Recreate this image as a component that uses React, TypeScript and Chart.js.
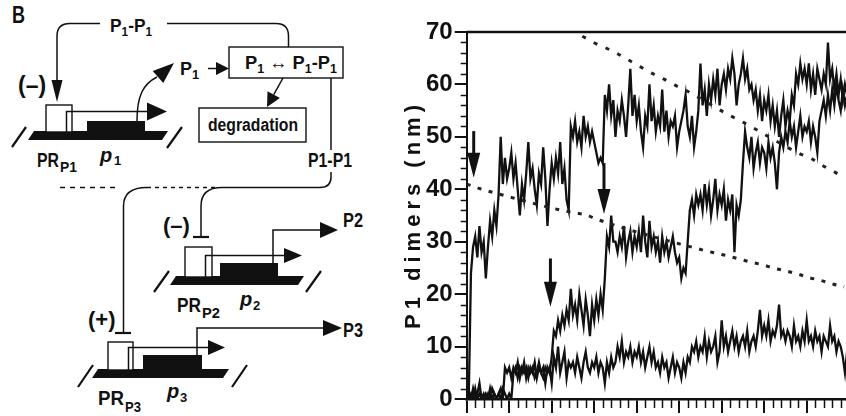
import React, { useEffect, useRef } from 'react';
import { Chart, registerables } from 'chart.js';

Chart.register(...registerables);

// ---------- data ----------
const TIME_STEP = 0.05; // x spacing between samples (axis units, major tick = 1)

const TRACE_A = [
  0, 1, 24, 29, 31, 27, 33, 28, 30, 23,
  29, 34, 31, 36, 33, 39, 50, 41, 46, 42,
  44, 47, 42, 45, 40, 35, 41, 38, 43, 49,
  42, 44, 40, 37, 43, 41, 48, 42, 33, 40,
  45, 42, 46, 43, 49, 41, 44, 38, 36, 52,
  50, 53, 49, 51, 48, 54, 50, 52, 49, 51,
  49, 47, 45, 46, 45, 58, 55, 60, 54, 57,
  50, 55, 53, 57, 54, 50, 56, 63, 54, 58,
  53, 56, 51, 48, 54, 52, 60, 53, 56, 51,
  54, 52, 59, 51, 55, 50, 53, 52, 54, 48,
  51, 53, 55, 58, 52, 50, 54, 48, 51, 55,
  64, 56, 59, 54, 60, 57, 61, 58, 63, 56,
  60, 62, 59, 63, 61, 65, 62, 56, 60, 62,
  65, 61, 63, 59, 60, 57, 59, 55, 58, 53,
  57, 55, 58, 53, 56, 52, 55, 50, 54, 57,
  52, 55, 53, 58, 56, 62, 60, 64, 61, 63,
  60, 64, 59, 62, 58, 63, 61, 59, 62, 60,
  68, 61, 63, 59, 62, 58, 61, 57, 60, 58, 61,
];

const TRACE_B = [
  0, 1, 0, 2, 0, 1, 3, 0, 1, 0,
  1, 0, 2, 1, 0, 1, 2, 0, 6, 5,
  6, 4, 6, 5, 7, 4, 6, 5, 6, 4,
  6, 5, 7, 4, 6, 5, 6, 3, 6, 5,
  8, 13, 12, 15, 13, 16, 14, 17, 15, 21,
  16, 18, 15, 20, 17, 14, 19, 16, 12, 18,
  15, 19, 16, 20, 17, 23, 31, 29, 35, 30,
  30, 28, 31, 29, 33, 27, 30, 32, 28, 31,
  29, 32, 28, 35, 30, 27, 34, 29, 31, 28,
  30, 26, 31, 28, 30, 27, 29, 31, 28, 26,
  27, 23, 25, 24, 30, 36, 38, 35, 39, 37,
  39, 36, 41, 37, 40, 35, 38, 42, 36, 39,
  37, 40, 34, 38, 36, 39, 28, 37, 35, 38,
  45, 51, 48, 46, 50, 44, 47, 49, 45, 48,
  47, 44, 49, 46, 48, 45, 40, 47, 50, 48,
  51, 49, 53, 50, 52, 48, 51, 54, 50, 52,
  51, 53, 49, 52, 50, 47, 53, 55, 57, 54,
  58, 55, 59, 56, 60, 57, 55, 59, 56, 58, 57,
];

const TRACE_C = [
  0, 0, 1, 0, 2, 0, 1, 0, 0, 1,
  0, 2, 0, 1, 0, 1, 0, 2, 1, 0,
  1, 0, 5, 6, 4, 6, 5, 7, 4, 6,
  5, 6, 4, 5, 7, 5, 4, 6, 5, 6,
  3, 8, 6, 10, 5, 7, 9, 4, 7, 6,
  7, 5, 8, 6, 4, 7, 9, 6, 5, 7,
  6, 8, 5, 7, 6, 3, 7, 5, 8, 6,
  7, 10, 8, 11, 7, 9, 8, 10, 7, 9,
  8, 10, 7, 9, 6, 8, 10, 7, 9, 6,
  7, 5, 8, 6, 7, 4, 6, 8, 5, 7,
  6, 4, 7, 5, 8, 7, 10, 9, 11, 8,
  10, 9, 12, 8, 11, 9, 10, 12, 7, 9,
  15, 10, 12, 9, 11, 13, 10, 12, 9, 11,
  12, 10, 13, 9, 11, 12, 10, 13, 17, 12,
  14, 12, 15, 11, 13, 12, 14, 18, 12, 13,
  11, 13, 12, 10, 14, 11, 12, 10, 13, 11,
  15, 11, 12, 10, 13, 11, 12, 9, 12, 11,
  10, 14, 11, 12, 9, 11, 10, 8, 5, 9, 8,
];

const UPPER_DOT_X = [2.72, 3.01, 3.29, 3.56, 3.82, 4.08, 4.34, 4.62, 4.89, 5.15, 6.22, 6.48, 7.83, 8.1, 8.36, 8.61, 8.87];
const UPPER_DOT_Y = [69.2, 67.9, 66.9, 65.8, 64.6, 63.4, 62.2, 61.1, 59.9, 58.9, 53.95, 52.9, 46.8, 45.9, 44.6, 43.5, 42.3];

const LOWER_DOT_X = [0, 0.32, 0.89, 1.44, 2.28, 2.56, 2.81, 3.09, 5.56, 5.87, 6.14, 6.41, 6.69, 6.96, 7.25, 7.53, 7.8, 8.08, 8.34, 8.63, 8.88];
const LOWER_DOT_Y = [41.0, 40.1, 38.8, 37.6, 35.9, 35.5, 35.1, 34.2, 28.4, 27.8, 27.3, 26.7, 26.1, 25.6, 24.9, 24.4, 23.8, 23.1, 22.6, 21.9, 21.4];

// downward arrows (data coordinates)
const ARROW_X = [0.165, 3.23, 1.97];
const ARROW_TOP = [51.1, 45.0, 26.8];
const ARROW_TIP = [42.2, 35.3, 17.6];

const Y_MIN = 0, Y_MAX = 70, Y_STEP = 10, Y_MINOR = 2;
const X_MIN = 0, X_MAX = 10, X_STEP = 1, X_MINOR = 0.2;
const Y_TITLE = 'P1 dimers (nm)';

const FONT = "'Liberation Sans', Arial, Helvetica, sans-serif";
const INK = '#111';

// ---------- plugins ----------
const decorPlugin = {
  id: 'decor',
  afterDatasetsDraw(chart: any) {
    const { ctx, scales } = chart;
    const xs = scales.x, ys = scales.y;
    ctx.save();
    ctx.fillStyle = INK;
    ctx.strokeStyle = INK;
    const HEAD_LEN = 25, HEAD_W = 13;
    for (let i = 0; i < ARROW_X.length; i++) {
      const px = xs.getPixelForValue(ARROW_X[i]);
      const top = ys.getPixelForValue(ARROW_TOP[i]);
      const tip = ys.getPixelForValue(ARROW_TIP[i]);
      ctx.lineWidth = 3;
      ctx.beginPath();
      ctx.moveTo(px, top);
      ctx.lineTo(px, tip - HEAD_LEN + 2);
      ctx.stroke();
      ctx.beginPath();
      ctx.moveTo(px - HEAD_W / 2, tip - HEAD_LEN);
      ctx.lineTo(px + HEAD_W / 2, tip - HEAD_LEN);
      ctx.lineTo(px, tip);
      ctx.closePath();
      ctx.fill();
    }
    ctx.restore();
  },
  afterDraw(chart: any) {
    const { ctx, chartArea, scales } = chart;
    const xs = scales.x, ys = scales.y;
    ctx.save();
    ctx.strokeStyle = INK;
    // top frame line
    ctx.lineWidth = 2.5;
    ctx.beginPath();
    ctx.moveTo(chartArea.left, chartArea.top);
    ctx.lineTo(chartArea.right, chartArea.top);
    ctx.stroke();
    // minor y ticks
    ctx.lineWidth = 1.5;
    ctx.beginPath();
    const ny = Math.round((Y_MAX - Y_MIN) / Y_MINOR);
    for (let k = 0; k <= ny; k++) {
      const v = Y_MIN + k * Y_MINOR;
      if (Math.abs(v / Y_STEP - Math.round(v / Y_STEP)) < 1e-6) continue;
      const py = Math.round(ys.getPixelForValue(v)) + 0.5;
      ctx.moveTo(chartArea.left - 6, py);
      ctx.lineTo(chartArea.left, py);
    }
    // minor x ticks
    const nx = Math.round((X_MAX - X_MIN) / X_MINOR);
    for (let k = 0; k <= nx; k++) {
      const v = X_MIN + k * X_MINOR;
      if (Math.abs(v / X_STEP - Math.round(v / X_STEP)) < 1e-6) continue;
      const px = Math.round(xs.getPixelForValue(v)) + 0.5;
      ctx.moveTo(px, chartArea.bottom);
      ctx.lineTo(px, chartArea.bottom + 9);
    }
    ctx.stroke();
    // y title with wide letter spacing
    ctx.translate(chartArea.left - 53, (chartArea.top + chartArea.bottom) / 2 + 1.5);
    ctx.rotate(-Math.PI / 2);
    ctx.fillStyle = INK;
    ctx.font = `bold 22px ${FONT}`;
    (ctx as any).letterSpacing = '5px';
    ctx.textAlign = 'center';
    ctx.textBaseline = 'middle';
    ctx.fillText(Y_TITLE, 2.5, 0);
    ctx.restore();
  },
};

function traceData(values: number[]) {
  return values.map((y, i) => ({ x: X_MIN + i * TIME_STEP, y }));
}
function pairData(xs: number[], ys: number[]) {
  return xs.map((x, i) => ({ x, y: ys[i] }));
}

const Diagram = () => {
  const line = { stroke: INK, strokeWidth: 1.5, fill: 'none' } as const;
  const thick = { stroke: INK, strokeWidth: 2.2, fill: 'none' } as const;
  const box = { stroke: INK, strokeWidth: 1.4, fill: '#fff' } as const;
  const adj = 'spacingAndGlyphs';
  return (
    <svg width={400} height={416} style={{ position: 'absolute', left: 0, top: 0 }}
      fontFamily={FONT} fontWeight="bold" fill={INK}>
      <text x={12} y={23} fontSize={24} textLength={13} lengthAdjust={adj}>B</text>

      {/* feedback loop P1-P1 */}
      <text x={110} y={31.5} fontSize={19} textLength={42} lengthAdjust={adj}>
        P<tspan fontSize={13} dy={4}>1</tspan><tspan dy={-4}>-P</tspan><tspan fontSize={13} dy={4}>1</tspan>
      </text>
      <path d="M100 23.5 H70 Q57 23.5 57 36 V82" {...line} />
      <polygon points="51.5,80 62.5,80 57,102" />
      <path d="M167 23.5 H276 Q288.5 23.5 288.5 36 V47" {...line} />
      <text x={18} y={93} fontSize={23}>(–)</text>

      {/* gene 1 */}
      <polygon points="34,131 168,131 162,140 28,140" />
      <line x1={12} y1={147} x2={26} y2={127} {...thick} />
      <line x1={167} y1={148} x2={182} y2={127} {...thick} />
      <rect x={46} y={105} width={26} height={27} {...box} />
      <path d="M66.5 132 V111.5 H149" {...line} />
      <polygon points="147,102.5 147,120.5 167,111.5" />
      <rect x={87} y={121} width={58} height={11} />
      <path d="M137 121 C137 96 143 84 157 77" {...line} />
      <polygon points="174,63 163.3,83 152.7,71" />
      <text x={37} y={167} fontSize={20} textLength={22} lengthAdjust={adj}>PR</text>
      <text x={60} y={172} fontSize={15} textLength={17} lengthAdjust={adj}>P1</text>
      <text x={100} y={162} fontSize={20} fontStyle="italic">p</text>
      <text x={114} y={165} fontSize={13}>1</text>

      {/* P1 -> dimerization box */}
      <text x={180} y={75} fontSize={18}>P</text>
      <text x={192} y={79} fontSize={13}>1</text>
      <line x1={208} y1={68.5} x2={218} y2={68.5} {...line} />
      <polygon points="216,62 216,75 229,68.5" />
      <rect x={229} y={47} width={114} height={31} {...box} fill="none" />
      <text x={245} y={68.5} fontSize={19} textLength={92} lengthAdjust={adj}>
        P<tspan fontSize={13} dy={4}>1</tspan><tspan dy={-4}> ↔ P</tspan><tspan fontSize={13} dy={4}>1</tspan><tspan dy={-4}>-P</tspan><tspan fontSize={13} dy={4}>1</tspan>
      </text>
      <line x1={283} y1={78} x2={273.7} y2={94.7} {...line} />
      <polygon points="267,107 279.9,98.1 267.5,91.3" />
      <rect x={199} y={108} width={107} height={34} {...box} fill="none" />
      <text x={208} y={131} fontSize={18} textLength={90} lengthAdjust={adj}>degradation</text>

      {/* P1-P1 regulation of genes 2 and 3 */}
      <line x1={331} y1={78} x2={331} y2={150} {...line} />
      <text x={308} y={167} fontSize={20} textLength={44} lengthAdjust={adj}>P1-P1</text>
      <path d="M331 172 V177 Q331 187.5 320 187.5 H222" {...line} />
      <path d="M222 187.5 Q201 187.5 201 206 V237" {...line} />
      <line x1={193} y1={237} x2={209} y2={237} {...thick} />
      <line x1={215} y1={187.5} x2={147} y2={187.5} {...line} strokeDasharray="4 4" />
      <path d="M147 187.5 Q123.5 187.5 123.5 206 V333" {...line} />
      <line x1={115} y1={333} x2={131} y2={333} {...thick} />
      <line x1={60} y1={187.5} x2={118} y2={187.5} {...line} strokeDasharray="5 5" />

      {/* gene 2 */}
      <text x={163} y={233} fontSize={22}>(–)</text>
      <polygon points="176,276 304,276 298,285 170,285" />
      <line x1={154} y1={292} x2={169} y2={271} {...thick} />
      <line x1={306} y1={292} x2={321} y2={271} {...thick} />
      <rect x={185} y={247} width={27} height={30} {...box} />
      <path d="M205.5 277 V255.5 H286" {...line} />
      <polygon points="284,248 284,263 302,255.5" />
      <rect x={220} y={263} width={58} height={14} />
      <path d="M273 263 V230 H322" {...line} />
      <polygon points="320,222 320,238 338,230" />
      <text x={343} y={227} fontSize={21} textLength={20} lengthAdjust={adj}>P2</text>
      <text x={177} y={312} fontSize={20} textLength={24} lengthAdjust={adj}>PR</text>
      <text x={202} y={318} fontSize={15} textLength={18} lengthAdjust={adj}>P2</text>
      <text x={240} y={306} fontSize={20} fontStyle="italic">p</text>
      <text x={253} y={310} fontSize={13}>2</text>

      {/* gene 3 */}
      <text x={88} y={327} fontSize={22}>(+)</text>
      <polygon points="98,369 229,369 223,378 92,378" />
      <line x1={78} y1={387} x2={93} y2={365} {...thick} />
      <line x1={232} y1={387} x2={247} y2={365} {...thick} />
      <rect x={108} y={342} width={25} height={28} {...box} />
      <path d="M128.5 370 V347.5 H210" {...line} />
      <polygon points="208,340 208,355 225,347.5" />
      <rect x={143} y={355} width={59} height={15} />
      <path d="M197 355 V328 H325" {...line} />
      <polygon points="323,320 323,336 342,328" />
      <text x={343} y={337} fontSize={21} textLength={20} lengthAdjust={adj}>P3</text>
      <text x={98} y={405} fontSize={20} textLength={26} lengthAdjust={adj}>PR</text>
      <text x={125} y={412} fontSize={15} textLength={16} lengthAdjust={adj}>P3</text>
      <text x={167} y={398} fontSize={20} fontStyle="italic">p</text>
      <text x={180} y={402} fontSize={13}>3</text>
    </svg>
  );
};

export default function App() {
  const canvasRef = useRef<HTMLCanvasElement | null>(null);

  useEffect(() => {
    const canvas = canvasRef.current;
    if (!canvas) return;
    const traceStyle = {
      borderColor: INK,
      borderWidth: 2.3,
      borderJoinStyle: 'miter' as const,
      pointRadius: 0,
      tension: 0,
      fill: false,
    };
    const dotStyle = {
      borderColor: '#222',
      borderWidth: 3,
      pointRadius: 0,
      cubicInterpolationMode: 'monotone' as const,
      borderCapStyle: 'butt' as const,
      fill: false,
    };
    const chart = new Chart(canvas, {
      type: 'line',
      data: {
        datasets: [
          { ...dotStyle, label: 'upper', data: pairData(UPPER_DOT_X, UPPER_DOT_Y), borderDash: [4, 9] },
          { ...dotStyle, label: 'lower', data: pairData(LOWER_DOT_X, LOWER_DOT_Y), borderDash: [4, 7.5] },
          { ...traceStyle, label: 'A', data: traceData(TRACE_A) },
          { ...traceStyle, label: 'B', data: traceData(TRACE_B) },
          { ...traceStyle, label: 'C', data: traceData(TRACE_C) },
        ],
      },
      options: {
        responsive: false,
        animation: false,
        devicePixelRatio: 1,
        layout: { autoPadding: false, padding: { top: 32, right: 28.3, bottom: 0, left: 0 } },
        plugins: { legend: { display: false }, tooltip: { enabled: false }, title: { display: false } },
        scales: {
          x: {
            type: 'linear',
            min: X_MIN,
            max: X_MAX,
            afterFit: (s: any) => { s.height = 17; },
            ticks: { stepSize: X_STEP, callback: () => '', autoSkip: false, maxRotation: 0 },
            grid: { drawOnChartArea: false, drawTicks: true, tickLength: 14, lineWidth: 2, color: INK },
            border: { display: true, color: INK, width: 2.5 },
          },
          y: {
            type: 'linear',
            min: Y_MIN,
            max: Y_MAX,
            afterFit: (s: any) => { s.width = 86.7; },
            ticks: {
              stepSize: Y_STEP,
              padding: 2,
              color: INK,
              font: { family: FONT, size: 24, weight: 'bold' },
            },
            grid: { drawOnChartArea: false, drawTicks: true, tickLength: 12, lineWidth: 2, color: INK },
            border: { display: true, color: INK, width: 2 },
          },
        },
      },
      plugins: [decorPlugin],
    });
    return () => chart.destroy();
  }, []);

  return (
    <div style={{ position: 'fixed', left: 0, top: 0, width: 846, height: 416, overflow: 'hidden', background: '#fff' }}>
      <Diagram />
      <canvas ref={canvasRef} width={540} height={416}
        style={{ position: 'absolute', left: 380, top: 0, width: 540, height: 416 }} />
    </div>
  );
}
